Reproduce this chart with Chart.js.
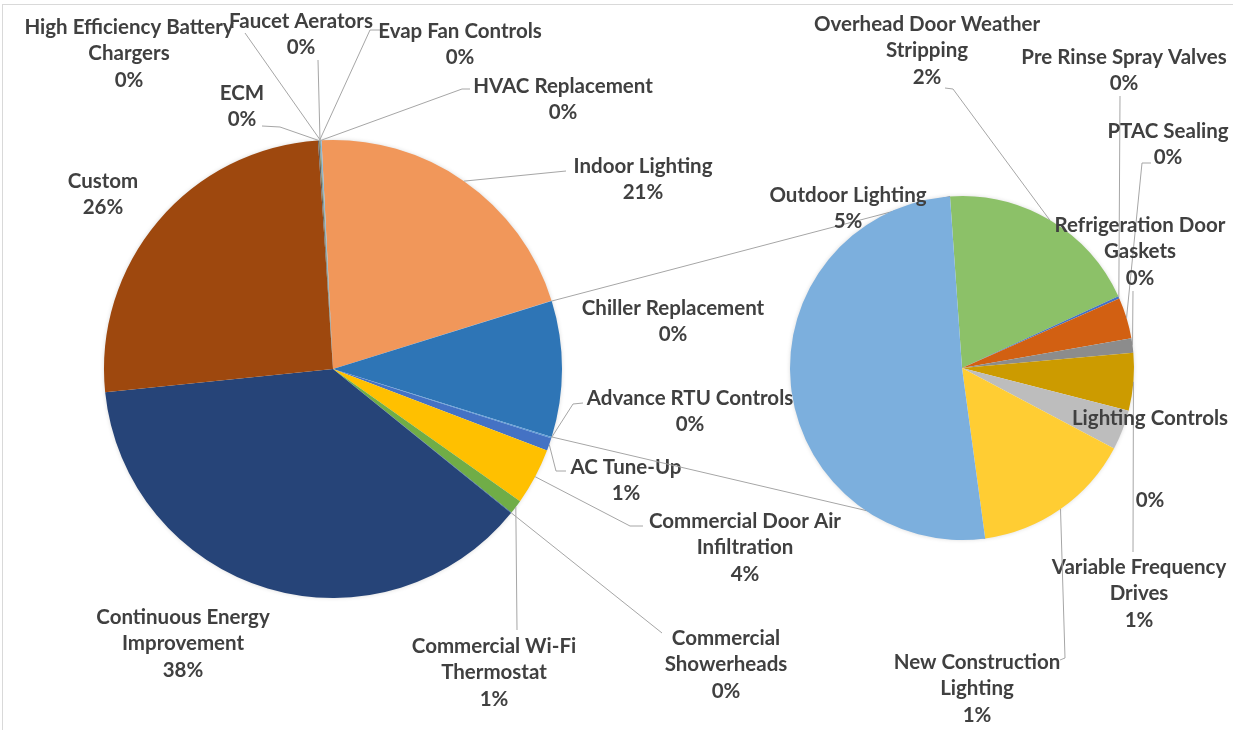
<!DOCTYPE html>
<html>
<head>
<meta charset="utf-8">
<title>Savings by measure</title>
<script src="https://cdn.jsdelivr.net/npm/chart.js@4.4.1/dist/chart.umd.min.js"></script>
<style>
  html, body { margin: 0; padding: 0; background: #ffffff; }
  #wrap { position: relative; width: 1233px; height: 730px; }
  #wrap canvas { position: absolute; left: 0; top: 0; }
</style>
</head>
<body>
<div id="wrap">
  <canvas id="grafico_main" width="1233" height="730"></canvas>
  <canvas id="grafico_detalle" width="1233" height="730"></canvas>
</div>
<script>
// main pie, clockwise from the top
const mainLabels = [
  "Indoor Lighting",
  "Chiller Replacement",
  "Advance RTU Controls",
  "AC Tune-Up",
  "Commercial Door Air Infiltration",
  "Commercial Wi-Fi Thermostat",
  "Commercial Showerheads",
  "Continuous Energy Improvement",
  "Custom",
  "ECM",
  "Evap Fan Controls",
  "Faucet Aerators",
  "High Efficiency Battery Chargers",
  "HVAC Replacement",
];
const mainValues = [21.0, 0.03, 0.1, 0.9, 4.0, 1.0, 0.04, 37.6, 25.6, 0.1, 0.03, 0.03, 0.03, 0.06];

// small measures, shown in the second pie
const detailLabels = [
  "Overhead Door Weather Stripping",
  "Pre Rinse Spray Valves",
  "PTAC Sealing",
  "Refrigeration Door Gaskets",
  "Variable Frequency Drives",
  "Lighting Controls",
  "New Construction Lighting",
  "Outdoor Lighting",
];
const detailValues = [1.85, 0.02, 0.37, 0.13, 0.52, 0.36, 1.45, 4.9];

// the "other" slice sits after Indoor Lighting and Chiller Replacement
const otherAt = 2;

const mainColors = [
  "#F1975A", "#A5A5A5", "#5B9BD5", "#4472C4", "#FFC000", "#70AD47", "#255E91",
  "#264478", "#9E480E", "#636363", "#997300", "#5B9BD5", "#43682B", "#7CAFDD",
];
const otherColor = "#2E75B6";
const detailColors = ["#8CC168", "#4472C4", "#D26012", "#8C8C8C", "#CC9B00", "#BDBDBD", "#FFCD33", "#7CAFDD"];

const FONT = "bold 20.5px Lato";
const LINE_H = 26.5;
const TEXT_COLOR = "#404040";
const LINE_COLOR = "#A6A6A6";

// label placement: centre x, first line y, wrap width, leader points
const mainLayout = {
  "Indoor Lighting": { x: 643, y: 166, lead: [[566, 171]] },
  "Chiller Replacement": { x: 673, y: 308 },
  "Advance RTU Controls": { x: 690, y: 398, lead: [[583, 403], [573, 404]] },
  "AC Tune-Up": { x: 626, y: 467, lead: [[566, 471], [556, 471]] },
  "Commercial Door Air Infiltration": { x: 745, y: 521, w: 240, lead: [[643, 526], [630, 526]] },
  "Commercial Wi-Fi Thermostat": { x: 494, y: 646, w: 215, lead: [[517, 630]] },
  "Commercial Showerheads": { x: 726, y: 638, w: 160, lead: [[662, 633]] },
  "Continuous Energy Improvement": { x: 183, y: 617, w: 225 },
  "Custom": { x: 103, y: 181 },
  "ECM": { x: 242, y: 93, lead: [[262, 126], [280, 127]] },
  "Evap Fan Controls": { x: 460, y: 31, lead: [[380, 30], [370, 30]] },
  "Faucet Aerators": { x: 301, y: 21, lead: [[318, 60]] },
  "High Efficiency Battery Chargers": { x: 129, y: 27, w: 260, lead: [[245, 33]] },
  "HVAC Replacement": { x: 563, y: 86, lead: [[470, 89], [462, 89]] },
};

const detailLayout = {
  "Overhead Door Weather Stripping": { x: 927, y: 24, w: 270, lead: [[945, 88], [953, 89]] },
  "Pre Rinse Spray Valves": { x: 1124, y: 57, lead: [[1120, 96]] },
  "PTAC Sealing": { x: 1168, y: 131, lead: [[1151, 163], [1142, 163]] },
  "Refrigeration Door Gaskets": { x: 1140, y: 225, w: 215, lead: [[1133, 291]] },
  "Variable Frequency Drives": { x: 1139, y: 567, w: 215, lead: [[1133, 552]] },
  "Lighting Controls": { x: 1150, y: 418, pctY: 500 },
  "New Construction Lighting": { x: 977, y: 662, w: 200, lead: [[1060, 660], [1065, 658]] },
  "Outdoor Lighting": { x: 848, y: 195 },
};

const sum = (arr) => arr.reduce((a, b) => a + b, 0);
const otherValue = sum(detailValues);
const total = sum(mainValues) + otherValue;

const mainData = [...mainValues];
mainData.splice(otherAt, 0, otherValue);
const mainAllLabels = [...mainLabels];
mainAllLabels.splice(otherAt, 0, "Other");
const mainAllColors = [...mainColors];
mainAllColors.splice(otherAt, 0, otherColor);

// turn the main pie so the "other" slice faces the second pie
const beforeOther = sum(mainData.slice(0, otherAt));
const mainRotation = 90 - ((beforeOther + otherValue / 2) / total) * 360;

const pct = (v) => Math.round((v / total) * 100) + "%";

const edgePoint = (arc, angle) => {
  const p = arc.getProps(["x", "y", "outerRadius"], true);
  return [p.x + Math.cos(angle) * p.outerRadius, p.y + Math.sin(angle) * p.outerRadius];
};

const splitText = (ctx, text, maxW) => {
  const words = text.split(" ");
  const lines = [];
  let line = "";
  for (const w of words) {
    const test = line ? line + " " + w : w;
    if (line && ctx.measureText(test).width > maxW) {
      lines.push(line);
      line = w;
    } else {
      line = test;
    }
  }
  lines.push(line);
  return lines;
};

const drawLabels = (chart, layout) => {
  const ctx = chart.ctx;
  const arcs = chart.getDatasetMeta(0).data;
  ctx.save();
  ctx.font = FONT;
  ctx.textAlign = "center";
  ctx.textBaseline = "middle";
  for (let i = 0; i < chart.data.labels.length; i++) {
    const name = chart.data.labels[i];
    const pos = layout[name];
    if (!pos) continue;
    const arc = arcs[i];
    const { startAngle, endAngle } = arc.getProps(["startAngle", "endAngle"], true);
    if (pos.lead) {
      const end = edgePoint(arc, (startAngle + endAngle) / 2);
      ctx.strokeStyle = LINE_COLOR;
      ctx.lineWidth = 1;
      ctx.beginPath();
      ctx.moveTo(pos.lead[0][0], pos.lead[0][1]);
      for (const p of pos.lead.slice(1)) ctx.lineTo(p[0], p[1]);
      ctx.lineTo(end[0], end[1]);
      ctx.stroke();
    }
    const lines = splitText(ctx, name, pos.w || 400);
    ctx.fillStyle = TEXT_COLOR;
    lines.forEach((l, k) => ctx.fillText(l, pos.x, pos.y + k * LINE_H));
    const py = pos.pctY || pos.y + lines.length * LINE_H;
    ctx.fillText(pct(chart.data.datasets[0].data[i]), pos.x, py);
  }
  ctx.restore();
};

// soft shadow under the whole pie
const pieShadow = {
  id: "pieShadow",
  beforeDatasetsDraw(chart) {
    const arc = chart.getDatasetMeta(0).data[0];
    const { x, y, outerRadius } = arc.getProps(["x", "y", "outerRadius"], true);
    const ctx = chart.ctx;
    ctx.save();
    ctx.shadowColor = "rgba(0, 0, 0, 0.22)";
    ctx.shadowBlur = 5;
    ctx.fillStyle = "#ffffff";
    ctx.beginPath();
    ctx.arc(x, y, outerRadius - 1, 0, Math.PI * 2);
    ctx.fill();
    ctx.restore();
  },
};

const frame = {
  id: "frame",
  beforeDraw(chart) {
    const ctx = chart.ctx;
    ctx.save();
    ctx.fillStyle = "#ffffff";
    ctx.fillRect(0, 0, chart.width, chart.height);
    ctx.strokeStyle = "#D9D9D9";
    ctx.lineWidth = 1;
    ctx.strokeRect(2.5, 4.5, 1240, 740);
    ctx.restore();
  },
};

const mainChart = new Chart(document.getElementById("grafico_main"), {
  type: "pie",
  data: {
    labels: mainAllLabels,
    datasets: [
      {
        data: mainData,
        backgroundColor: mainAllColors,
        borderWidth: 0,
        hoverOffset: 0,
      },
    ],
  },
  options: {
    responsive: false,
    animation: false,
    events: [],
    rotation: mainRotation,
    layout: { padding: { left: 104, right: 671, top: 140, bottom: 132 } },
    plugins: { legend: { display: false }, tooltip: { enabled: false } },
  },
  plugins: [
    frame,
    pieShadow,
    {
      id: "mainLabels",
      afterDatasetsDraw(chart) {
        drawLabels(chart, mainLayout);
      },
    },
  ],
});

// series lines from the "other" slice to the second pie
const connectors = {
  id: "connectors",
  beforeDatasetsDraw(chart) {
    const other = mainChart.getDatasetMeta(0).data[otherAt];
    const o = other.getProps(["startAngle", "endAngle"], true);
    const arcs = chart.getDatasetMeta(0).data;
    const first = arcs[0].getProps(["startAngle"], true);
    const last = arcs[arcs.length - 1].getProps(["startAngle"], true);
    const a1 = edgePoint(other, o.startAngle);
    const b1 = edgePoint(arcs[0], first.startAngle);
    const a2 = edgePoint(other, o.endAngle);
    const b2 = edgePoint(arcs[arcs.length - 1], last.startAngle);
    const ctx = chart.ctx;
    ctx.save();
    ctx.strokeStyle = LINE_COLOR;
    ctx.lineWidth = 1;
    ctx.beginPath();
    ctx.moveTo(a1[0], a1[1]);
    ctx.lineTo(b1[0], b1[1]);
    ctx.moveTo(a2[0], a2[1]);
    ctx.lineTo(b2[0], b2[1]);
    ctx.stroke();
    ctx.restore();
  },
};

new Chart(document.getElementById("grafico_detalle"), {
  type: "pie",
  data: {
    labels: detailLabels,
    datasets: [
      {
        data: detailValues,
        backgroundColor: detailColors,
        borderWidth: 0,
        hoverOffset: 0,
      },
    ],
  },
  options: {
    responsive: false,
    animation: false,
    events: [],
    rotation: -4,
    layout: { padding: { left: 790, right: 99, top: 196, bottom: 190 } },
    plugins: { legend: { display: false }, tooltip: { enabled: false } },
  },
  plugins: [
    connectors,
    pieShadow,
    {
      id: "detailLabels",
      afterDatasetsDraw(chart) {
        drawLabels(chart, detailLayout);
      },
    },
  ],
});
</script>
</body>
</html>
